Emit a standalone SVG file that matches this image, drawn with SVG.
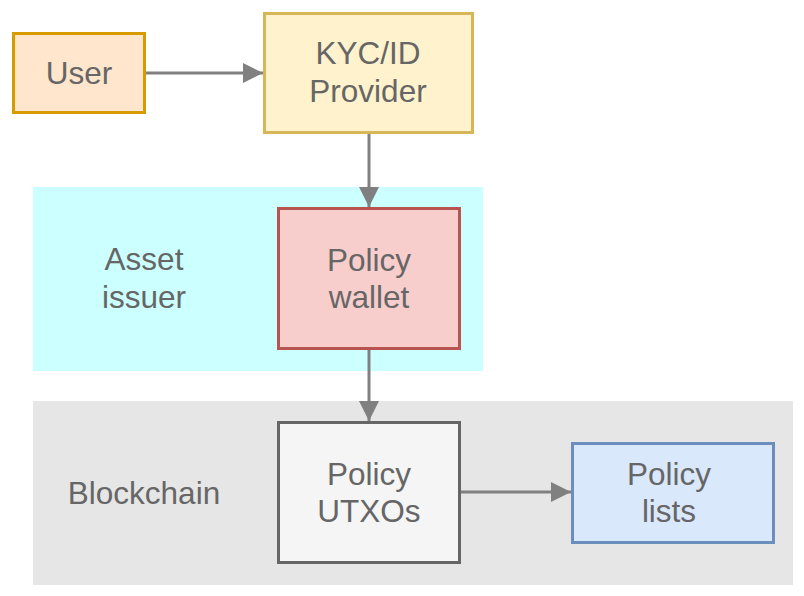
<svg xmlns="http://www.w3.org/2000/svg" width="804" height="596" viewBox="0 0 804 596">
<style>
text{font-family:"Liberation Sans",Arial,Helvetica,sans-serif;font-size:31.5px;fill:#666666;text-anchor:middle}
.n{stroke-width:3}
.c{stroke:#808080;stroke-width:3;fill:none}
</style>
<defs>
<marker id="ah" markerUnits="userSpaceOnUse" markerWidth="22" markerHeight="22" refX="20" refY="10" orient="auto">
<path d="M0,0 L20,10 L0,20 Z" fill="#808080"/>
</marker>
</defs>
<rect x="0" y="0" width="804" height="596" fill="#ffffff"/>
<g id="asset-issuer-area">
<rect x="33" y="187" width="450" height="184" fill="#ccffff"/>
<text x="144" y="270">Asset</text>
<text x="144" y="308">issuer</text>
</g>
<g id="blockchain-area">
<rect x="33" y="401" width="760" height="184" fill="#e6e6e6"/>
<text x="144" y="504">Blockchain</text>
</g>
<g id="connectors">
<line class="c" x1="146" y1="73" x2="263" y2="73" marker-end="url(#ah)"/>
<line class="c" x1="369" y1="134" x2="369" y2="207" marker-end="url(#ah)"/>
<line class="c" x1="369" y1="350" x2="369" y2="421" marker-end="url(#ah)"/>
<line class="c" x1="461" y1="492" x2="571" y2="492" marker-end="url(#ah)"/>
</g>
<g id="user">
<rect class="n" x="13.5" y="33.5" width="131" height="79" fill="#ffe6cc" stroke="#d79b00"/>
<text x="79" y="84">User</text>
</g>
<g id="kyc">
<rect class="n" x="264.5" y="13.5" width="208" height="119" fill="#fff2cc" stroke="#d6b656"/>
<text x="368" y="64">KYC/ID</text>
<text x="368" y="102">Provider</text>
</g>
<g id="policy-wallet">
<rect class="n" x="278.5" y="208.5" width="181" height="140" fill="#f8cecc" stroke="#b85450"/>
<text x="369" y="271">Policy</text>
<text x="369" y="308">wallet</text>
</g>
<g id="policy-utxos">
<rect class="n" x="278.5" y="422.5" width="181" height="140" fill="#f5f5f5" stroke="#666666"/>
<text x="369" y="485">Policy</text>
<text x="369" y="522">UTXOs</text>
</g>
<g id="policy-lists">
<rect class="n" x="572.5" y="443.5" width="201" height="99" fill="#dae8fc" stroke="#6c8ebf"/>
<text x="669" y="485">Policy</text>
<text x="669" y="522">lists</text>
</g>
</svg>
